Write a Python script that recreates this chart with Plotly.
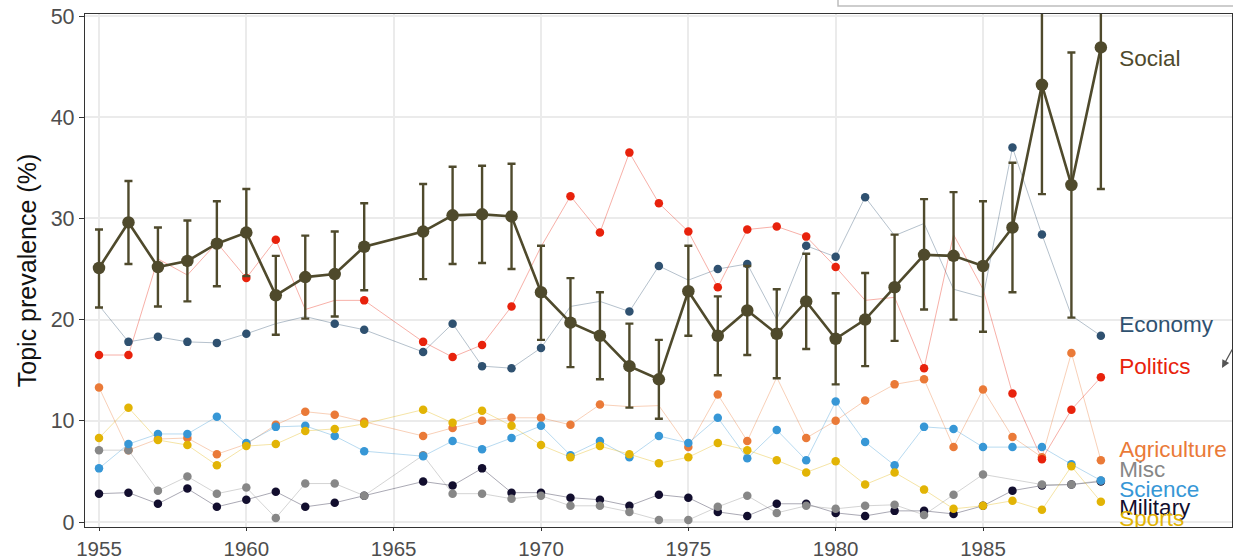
import plotly.graph_objects as go

# ---------------- data ----------------
years = [1955, 1956, 1957, 1958, 1959, 1960, 1961, 1962, 1963, 1964,
         1966, 1967, 1968, 1969, 1970, 1971, 1972, 1973, 1974, 1975,
         1976, 1977, 1978, 1979, 1980, 1981, 1982, 1983, 1984, 1985,
         1986, 1987, 1988, 1989]

social = [25.1, 29.6, 25.2, 25.8, 27.5, 28.6, 22.4, 24.2, 24.5, 27.2,
          28.7, 30.3, 30.4, 30.2, 22.7, 19.7, 18.4, 15.4, 14.1, 22.8,
          18.4, 20.9, 18.6, 21.8, 18.1, 20.0, 23.2, 26.4, 26.3, 25.3,
          29.1, 43.2, 33.3, 46.9]
social_lower = [21.2, 25.5, 21.3, 21.8, 23.3, 24.3, 18.5, 20.1, 20.3, 22.9,
                24.0, 25.5, 25.6, 25.0, 18.0, 15.3, 14.1, 11.3, 10.2, 18.4,
                14.5, 16.5, 14.2, 17.1, 13.6, 15.4, 17.9, 21.0, 20.0, 18.8,
                22.7, 32.4, 20.2, 32.9]
social_upper = [28.9, 33.7, 29.1, 29.8, 31.7, 32.9, 26.3, 28.3, 28.7, 31.5,
                33.4, 35.1, 35.2, 35.4, 27.3, 24.1, 22.7, 19.6, 18.0, 27.3,
                22.3, 25.3, 23.0, 26.5, 22.6, 24.6, 28.4, 31.9, 32.6, 31.7,
                35.5, 54.0, 46.4, 60.9]

agriculture = [13.3, 7.1, 8.2, 8.3, 6.7, 7.7, 9.6, 10.9, 10.6, 9.9,
               8.5, 9.3, 10.0, 10.3, 10.3, 9.6, 11.6, 11.4, 11.5, 7.4,
               12.6, 8.0, 14.3, 8.3, 10.0, 12.0, 13.6, 14.1, 7.4, 13.1,
               8.4, 6.4, 16.7, 6.1]
economy = [21.4, 17.8, 18.3, 17.8, 17.7, 18.6, 19.6, 20.3, 19.6, 19.0,
           16.8, 19.6, 15.4, 15.2, 17.2, 21.3, 21.8, 20.8, 25.3, 23.9,
           25.0, 25.5, 20.0, 27.3, 26.2, 32.1, 28.3, 29.5, 23.0, 22.2,
           37.0, 28.4, 20.4, 18.4]
military = [2.8, 2.9, 1.8, 3.3, 1.5, 2.2, 3.0, 1.5, 1.9, 2.6,
            4.0, 3.6, 5.3, 2.9, 2.9, 2.4, 2.2, 1.6, 2.7, 2.4,
            1.0, 0.6, 1.8, 1.8, 0.9, 0.6, 1.1, 1.1, 0.8, 1.6,
            3.1, 3.6, 3.7, 4.0]
misc = [7.1, 7.1, 3.1, 4.5, 2.8, 3.4, 0.4, 3.8, 3.8, 2.6,
        6.6, 2.8, 2.8, 2.3, 2.6, 1.6, 1.6, 1.0, 0.2, 0.2,
        1.5, 2.6, 0.9, 1.6, 1.3, 1.6, 1.7, 0.7, 2.7, 4.7,
        None, 3.7, 3.7, 4.1]
politics = [16.5, 16.5, 26.0, 24.4, 27.6, 24.1, 27.9, 21.0, 21.9, 21.9,
            17.8, 16.3, 17.5, 21.3, 27.2, 32.2, 28.6, 36.5, 31.5, 28.7,
            23.2, 28.9, 29.2, 28.2, 25.2, 21.9, 22.2, 15.2, 28.4, 23.0,
            12.7, 6.2, 11.1, 14.3]
science = [5.3, 7.7, 8.7, 8.7, 10.4, 7.8, 9.4, 9.5, 8.5, 7.0,
           6.5, 8.0, 7.2, 8.3, 9.5, 6.6, 8.0, 6.4, 8.5, 7.8,
           10.3, 6.3, 9.1, 6.1, 11.9, 7.9, 5.6, 9.4, 9.2, 7.4,
           7.4, 7.4, 5.7, 4.1]
sports = [8.3, 11.3, 8.1, 7.6, 5.6, 7.5, 7.7, 9.0, 9.2, 9.7,
          11.1, 9.8, 11.0, 9.5, 7.6, 6.4, 7.5, 6.7, 5.8, 6.4,
          7.8, 7.1, 6.1, 4.9, 6.0, 3.7, 4.9, 3.2, 1.3, 1.6,
          2.1, 1.2, 5.5, 2.0]

topic_names = ["Agriculture", "Economy", "Military", "Misc", "Politics", "Science", "Sports"]
topic_values = [agriculture, economy, military, misc, politics, science, sports]

x_ticks = [1955, 1960, 1965, 1970, 1975, 1980, 1985]
y_ticks = [0, 10, 20, 30, 40, 50]

# ---------------- style ----------------
FONT = "Liberation Sans, Arial, sans-serif"
colors = {
    "Agriculture": "#ea7a38",
    "Economy": "#2f5170",
    "Military": "#120e2e",
    "Misc": "#878787",
    "Politics": "#e8220c",
    "Science": "#3797d6",
    "Sports": "#e2b405",
    "Social": "#4f4a2c",
}

def rgba(hexc, a):
    h = hexc.lstrip("#")
    return "rgba(%d,%d,%d,%.2f)" % (int(h[0:2], 16), int(h[2:4], 16), int(h[4:6], 16), a)

fig = go.Figure()

# thin connecting lines first
for name, vals in zip(topic_names, topic_values):
    fig.add_trace(go.Scatter(
        x=years, y=vals, mode="lines", connectgaps=True,
        line=dict(color=rgba(colors[name], 0.45), width=0.8),
        showlegend=False, hoverinfo="skip",
    ))

# points (those inside the Social confidence band are not marked)
for name, vals in zip(topic_names, topic_values):
    shown = []
    for v, lo, hi in zip(vals, social_lower, social_upper):
        shown.append(None if (v is None or lo <= v <= hi) else v)
    fig.add_trace(go.Scatter(
        x=years, y=shown, mode="markers", name=name,
        marker=dict(color=colors[name], size=8.5, opacity=1, line=dict(width=0)),
        showlegend=False, hoverinfo="skip",
    ))

err_plus = [u - s for u, s in zip(social_upper, social)]
err_minus = [s - l for s, l in zip(social, social_lower)]
fig.add_trace(go.Scatter(
    x=years, y=social, mode="lines+markers", name="Social",
    line=dict(color=colors["Social"], width=2.6),
    marker=dict(color=colors["Social"], size=12.5),
    error_y=dict(type="data", array=err_plus, arrayminus=err_minus,
                 color=colors["Social"], thickness=2.4, width=4),
    showlegend=False, hoverinfo="skip",
))

# end labels
label_names = ["Social", "Economy", "Politics", "Agriculture", "Misc", "Science", "Military", "Sports"]
label_y = [45.6, 19.3, 15.2, 7.0, 5.0, 3.05, 1.2, 0.15]
for nm, yy in zip(label_names, label_y):
    fig.add_trace(go.Scatter(
        x=[1989.62], y=[yy], mode="text", text=[nm], textposition="middle right",
        textfont=dict(color=colors[nm], size=22.5, family=FONT),
        cliponaxis=True, showlegend=False, hoverinfo="skip",
    ))

axis_common = dict(
    showgrid=True, gridcolor="#ebebeb", gridwidth=1.8,
    showline=True, linecolor="#333333", linewidth=1.3, mirror=True,
    ticks="outside", tickwidth=1.3, tickcolor="#333333",
    zeroline=False, automargin=False,
)

fig.update_layout(
    width=1233, height=558,
    margin=dict(l=85, r=1, t=14, b=31),
    paper_bgcolor="white", plot_bgcolor="white",
    font=dict(family=FONT),
    xaxis=dict(range=[1954.525, 1993.45], tickvals=x_ticks, ticklen=3,
               tickfont=dict(size=20.5, color="#4d4d4d", family=FONT),
               **axis_common),
    yaxis=dict(range=[-0.494, 50.198], tickvals=y_ticks, ticklen=5,
               tickfont=dict(size=21.5, color="#4d4d4d", family=FONT),
               title=dict(text="Topic prevalence (%)", standoff=6,
                          font=dict(size=25, color="#111111")),
               **axis_common),
)

# overlay artefacts from the reference screenshot (popup edge and cursor)
fig.add_shape(type="rect", xref="paper", yref="paper",
              x0=0.6565, x1=1.02, y0=1.0156, y1=1.08,
              fillcolor="white", line=dict(color="#bdbdbd", width=1.5), layer="above")
fig.add_annotation(xref="paper", yref="paper", x=0.9913, y=0.31, text="",
                   showarrow=True, ax=20, ay=-20, arrowhead=2, arrowsize=1.2,
                   arrowwidth=1.3, arrowcolor="#555555")

fig.write_html("out.html")
